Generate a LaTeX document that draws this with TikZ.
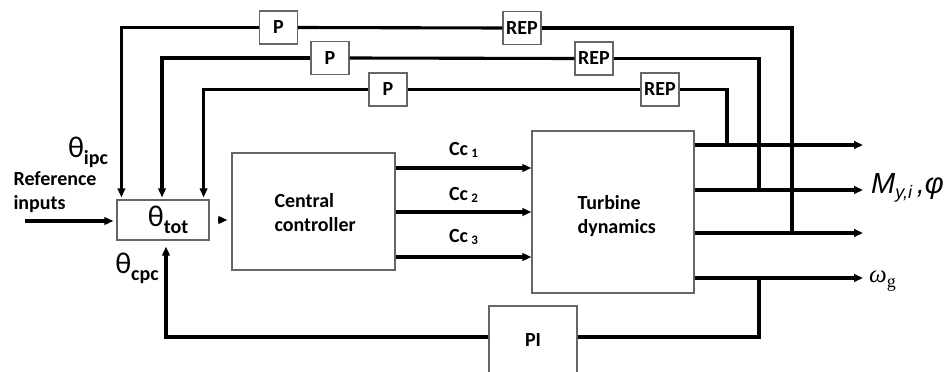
\documentclass[tikz,border=0pt]{standalone}
\usepackage{fontspec}
\setmainfont{Carlito}
\newfontfamily\arialfont{Liberation Sans}
\newfontfamily\timesfont{Liberation Serif}
\usetikzlibrary{arrows.meta, positioning, calc}

\begin{document}
\begin{tikzpicture}[
  x=1pt, y=-1pt,
  font=\bfseries\fontsize{20}{24}\selectfont,
  blk/.style={draw=black!60, line width=1.2pt, fill=white, inner sep=0pt},
  gain/.style={blk, minimum width=38pt, minimum height=33pt},
  sig/.style={line width=3.1pt, -{Triangle[length=9pt,width=7.5pt]}},
  fb/.style={line width=3.1pt}
]
\clip (0,0) rectangle (948,372);

% blocks
\node[blk, minimum width=92pt, minimum height=40pt] (tot) at (163,220) {};
\node[blk, minimum width=163pt, minimum height=117pt] (cc) at (313.5,211.5) {};
\node[blk, minimum width=162pt, minimum height=162pt] (td) at (613,212) {};
\node[blk, minimum width=88pt, minimum height=68pt] (pi) at (533,340) {PI};
\node[gain] (p1) at (278.5,27.5) {P};
\node[gain] (p2) at (330,58) {P};
\node[gain] (p3) at (388,89.5) {P};
\node[gain] (rep1) at (522,28) {REP};
\node[gain] (rep2) at (594,58.5) {REP};
\node[gain] (rep3) at (660,89.5) {REP};

\node[anchor=west, align=left] (cctxt) at (271,213) {Central\\controller};
\node[anchor=west, align=left] (tdtxt) at (574,216) {Turbine\\dynamics};
\node (tottxt) at (168,220) {{\mdseries\fontsize{30}{30}\selectfont θ}\raisebox{-7pt}{tot}};
\node (ipc) at (88,152) {{\mdseries\fontsize{30}{30}\selectfont θ}\raisebox{-7pt}{ipc}};
\node (cpc) at (137,268) {{\mdseries\fontsize{30}{30}\selectfont θ}\raisebox{-7pt}{cpc}};
\node[anchor=west, align=left] (refin) at (10,192) {Reference\\inputs};

% outputs
\coordinate (out1) at (863,145);
\coordinate (out2) at (863,190);
\coordinate (out3) at (863,233);
\coordinate (out4) at (863,278);
\coordinate (j1) at (792,233);
\coordinate (j2) at (759,190);
\coordinate (j3) at (727,145);
\coordinate (j4) at (759,278);
\coordinate (pil) at (759,337);
\coordinate (ref) at (25,221);

\draw[sig] (td.east |- out1) -- (out1);
\draw[sig] (td.east |- out2) -- (out2);
\draw[sig] (td.east |- out3) -- (out3);
\draw[sig] (td.east |- out4) -- (out4);
\node[anchor=west, inner sep=0pt] (my) at (871,188) {\arialfont\mdseries\itshape{\fontsize{29}{29}\selectfont M}\raisebox{-5pt}{\fontsize{18}{18}\selectfont y,i}{\fontsize{29}{29}\selectfont\,,φ}};
\node[anchor=west, inner sep=0pt] (wg) at (869,281) {\timesfont\mdseries{\itshape\fontsize{25}{25}\selectfont ω}\raisebox{-5pt}{\fontsize{18}{18}\selectfont g}};

% feedback paths
\draw[fb] (j1) |- (rep1.east);
\draw[fb] (rep1.west) -- (p1.east);
\draw[sig, shorten >=2pt] (p1.west) -| ([xshift=5pt]tot.north west);
\draw[fb] (j2) |- (rep2.east);
\draw[fb] (rep2.west) -- (p2.east);
\draw[sig, shorten >=2pt] (p2.west) -| ([xshift=-1pt]tot.north);
\draw[fb] (j3) |- (rep3.east);
\draw[fb] (rep3.west) -- (p3.east);
\draw[sig, shorten >=2pt] (p3.west) -| ([xshift=-6pt]tot.north east);
\draw[fb] (j4) -- (pil) -- (pil -| pi.east);
\draw[sig, shorten >=6pt] (pil -| pi.west) -| ([xshift=3pt]tot.south);

% forward path
\draw[sig, shorten >=3pt] (ref) -- (ref -| tot.west);
\draw[sig] ([xshift=8pt]tot.east) -- ([xshift=-4pt]cc.west |- tot.east);
\draw[sig] (cc.east |- 0,168) -- (td.west |- 0,168) node[midway, above=6pt] {Cc\,\raisebox{-2pt}{\fontsize{13}{13}\selectfont 1}};
\draw[sig] (cc.east |- 0,212) -- (td.west |- 0,212) node[midway, above=5pt] {Cc\,\raisebox{-2pt}{\fontsize{13}{13}\selectfont 2}};
\draw[sig] (cc.east |- 0,257) -- (td.west |- 0,257) node[midway, above=8pt] {Cc\,\raisebox{-2pt}{\fontsize{13}{13}\selectfont 3}};
\end{tikzpicture}
\end{document}
